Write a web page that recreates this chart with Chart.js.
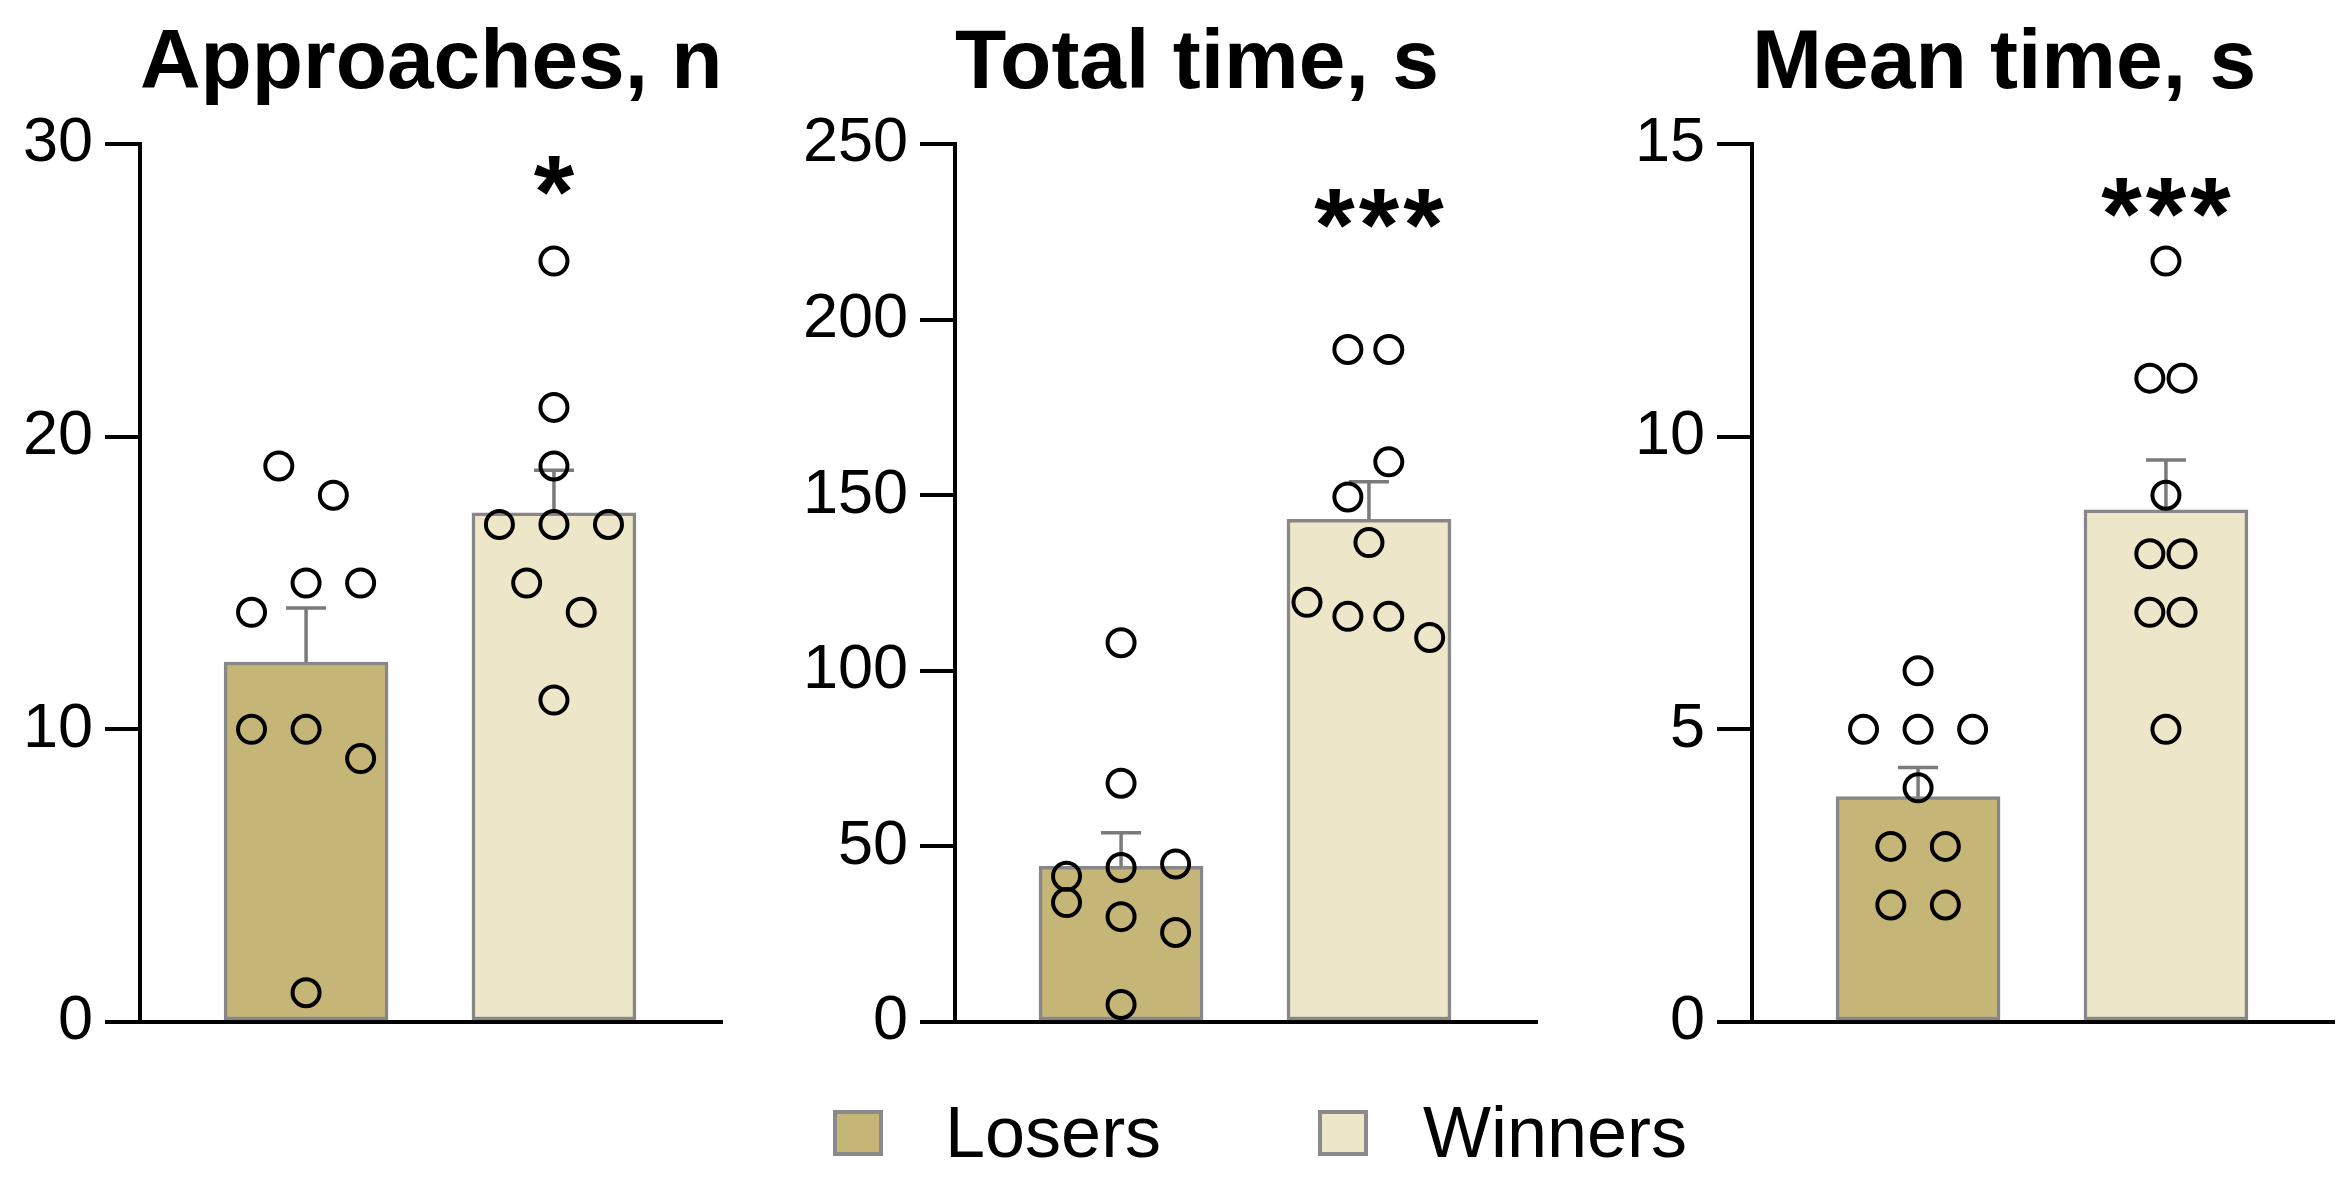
<!DOCTYPE html>
<html>
<head>
<meta charset="utf-8">
<script src="https://cdn.jsdelivr.net/npm/chart.js@4.4.0/dist/chart.umd.min.js"></script>
<style>
  body { margin: 0; background: #fff; width: 2352px; height: 1183px; position: relative; overflow: hidden;
         font-family: 'Liberation Sans', Arial, sans-serif; }
  canvas { position: absolute; top: 0; }
  .swatch { position: absolute; top: 1110px; width: 42px; height: 38px; border: 4px solid #8a8a8a; }
  .label { position: absolute; top: 1096px; font-size: 72px; line-height: 72px; color: #000; }
</style>
</head>
<body>
<canvas id="c1" width="740" height="1072" style="left:0px"></canvas>
<canvas id="c2" width="780" height="1072" style="left:775px"></canvas>
<canvas id="c3" width="740" height="1072" style="left:1612px"></canvas>

<div class="swatch" style="left:833px; background:#c5b678"></div>
<div class="label" style="left:945px">Losers</div>
<div class="swatch" style="left:1318px; background:#eee6c8"></div>
<div class="label" style="left:1423px">Winners</div>

<script>
// groups and panel text
const groups = ['Losers', 'Winners'];
const titles = ['Approaches, n', 'Total time, s', 'Mean time, s'];
const sigMarks = ['*', '***', '***'];

// y tick labels per panel
const approachTicks = [0, 10, 20, 30];
const totalTicks = [0, 50, 100, 150, 200, 250];
const meanTimeTicks = [0, 5, 10, 15];

// Approaches, n
const approachMean = [12.3, 17.4];
const approachSem = [1.85, 1.45];
const approachLosers = [19, 18, 15, 15, 14, 10, 10, 9, 1];
const approachLosersX = [-0.11, 0.11, 0, 0.22, -0.22, -0.22, 0, 0.22, 0];
const approachWinners = [26, 21, 19, 17, 17, 17, 15, 14, 11];
const approachWinnersX = [0, 0, 0, -0.22, 0, 0.22, -0.11, 0.11, 0];

// Total time, s
const totalMean = [44.3, 143.1];
const totalSem = [9.6, 10.7];
const totalLosers = [108, 68, 44, 45, 41.5, 34, 30, 25.5, 5];
const totalLosersX = [0, 0, 0, 0.22, -0.22, -0.22, 0, 0.22, 0];
const totalWinners = [191.5, 191.5, 159.5, 149.5, 136.5, 119.5, 115.5, 115.5, 109.5];
const totalWinnersX = [-0.085, 0.08, 0.08, -0.085, 0, -0.25, -0.085, 0.08, 0.245];

// Mean time, s
const meanTimeMean = [3.85, 8.75];
const meanTimeSem = [0.5, 0.85];
const meanTimeLosers = [6, 5, 5, 5, 4, 3, 3, 2, 2];
const meanTimeLosersX = [0, -0.22, 0, 0.22, 0, -0.11, 0.11, -0.11, 0.11];
const meanTimeWinners = [13, 11, 11, 9, 8, 8, 7, 7, 5];
const meanTimeWinnersX = [0, -0.065, 0.065, 0, -0.065, 0.065, -0.065, 0.065, 0];

Chart.defaults.font.family = "'Liberation Sans', Arial, sans-serif";
Chart.defaults.color = '#000';

const barFill = ['#c5b678', '#eee6c8'];
const barEdge = '#878787';

// upper SEM whiskers on top of each bar
const errorBars = {
    id: 'errorBars',
    afterDatasetDraw(chart, args, opts) {
        const ds = chart.data.datasets[args.index];
        if (!ds.sem) return;
        const {ctx, scales: {x, y}} = chart;
        ctx.save();
        ctx.strokeStyle = opts.color;
        ctx.lineWidth = opts.width;
        ds.data.forEach((p, i) => {
            const px = x.getPixelForValue(p.x);
            const base = y.getPixelForValue(p.y);
            const top = y.getPixelForValue(p.y + ds.sem[i]);
            ctx.beginPath();
            ctx.moveTo(px, base);
            ctx.lineTo(px, top);
            ctx.moveTo(px - opts.cap, top);
            ctx.lineTo(px + opts.cap, top);
            ctx.stroke();
        });
        ctx.restore();
    }
};

// significance stars above the Winners bar
const sigStars = {
    id: 'sigStars',
    afterDraw(chart, args, opts) {
        const {ctx, chartArea, scales: {x}} = chart;
        ctx.save();
        ctx.font = 'bold ' + opts.size + "px 'Liberation Sans', Arial";
        ctx.letterSpacing = opts.spacing + 'px';
        ctx.fillStyle = '#000';
        ctx.textAlign = 'center';
        ctx.textBaseline = 'middle';
        ctx.fillText(opts.text, x.getPixelForValue(1) + opts.shift, chartArea.top + opts.offset);
        ctx.restore();
    }
};

function points(vals, xs, group) {
    return vals.map((v, i) => ({x: group + xs[i], y: v}));
}

function panel(id, axisWidth, title, ticks, mean, sem, losers, losersX, winners, winnersX, sig, sigOffset, sigShift) {
    const dot = {
        type: 'scatter',
        pointRadius: 13.5,
        pointHoverRadius: 13.5,
        pointBorderWidth: 4,
        pointBorderColor: '#000',
        pointBackgroundColor: 'rgba(0,0,0,0)',
        clip: false,
        order: 0
    };
    return new Chart(document.getElementById(id), {
        type: 'bar',
        data: {
            datasets: [
                {...dot, label: groups[0], data: points(losers, losersX, 0)},
                {...dot, label: groups[1], data: points(winners, winnersX, 1)},
                {
                    type: 'bar',
                    label: 'mean',
                    data: mean.map((v, i) => ({x: i, y: v})),
                    sem: sem,
                    backgroundColor: barFill,
                    borderColor: barEdge,
                    borderWidth: 3.5,
                    borderSkipped: false,
                    barThickness: 164,
                    order: 1
                }
            ]
        },
        options: {
            responsive: false,
            animation: false,
            devicePixelRatio: 1,
            layout: {padding: {left: 0, right: 10, top: 0, bottom: 0}},
            plugins: {
                legend: {display: false},
                tooltip: {enabled: false},
                title: {
                    display: true,
                    text: title,
                    align: 'start',
                    fullSize: false,
                    color: '#000',
                    font: {size: 84, weight: 'bold'},
                    padding: {top: 14, bottom: 29.2}
                },
                errorBars: {color: '#7a7a7a', width: 3.5, cap: 20},
                sigStars: {text: sig, size: 104, spacing: 4, offset: sigOffset, shift: sigShift}
            },
            scales: {
                x: {
                    type: 'linear',
                    offset: false,
                    min: -0.67,
                    max: 1.68,
                    ticks: {display: false},
                    grid: {display: false, offset: false},
                    border: {display: true, color: '#000', width: 4},
                    afterFit: s => { s.height = 50; }
                },
                y: {
                    type: 'linear',
                    min: ticks[0],
                    max: ticks[ticks.length - 1],
                    afterBuildTicks: s => { s.ticks = ticks.map(v => ({value: v})); },
                    ticks: {color: '#000', font: {size: 63}, padding: 12},
                    grid: {drawOnChartArea: false, drawTicks: true, tickLength: 35, color: '#000', lineWidth: 4},
                    border: {display: true, color: '#000', width: 4},
                    afterFit: s => { s.width = axisWidth; }
                }
            }
        },
        plugins: [errorBars, sigStars]
    });
}

panel('c1', 140, titles[0], approachTicks, approachMean, approachSem,
      approachLosers, approachLosersX, approachWinners, approachWinnersX, sigMarks[0], 55, 2);
panel('c2', 180, titles[1], totalTicks, totalMean, totalSem,
      totalLosers, totalLosersX, totalWinners, totalWinnersX, sigMarks[1], 88, 12);
panel('c3', 140, titles[2], meanTimeTicks, meanTimeMean, meanTimeSem,
      meanTimeLosers, meanTimeLosersX, meanTimeWinners, meanTimeWinnersX, sigMarks[2], 77, 2);
</script>
</body>
</html>
